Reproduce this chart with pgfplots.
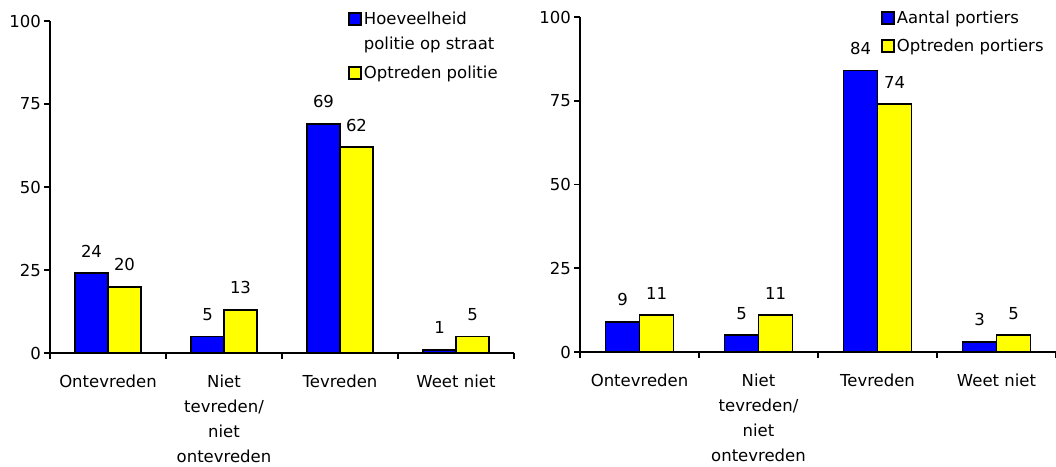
\documentclass[border=0pt]{standalone}
\usepackage{fontspec}
\setmainfont{DejaVu Sans}
\usepackage{pgfplots}
\pgfplotsset{compat=1.18}
\newcommand\lbl{\fontsize{16.5}{25}\selectfont}
\definecolor{cblue}{RGB}{0,0,255}
\definecolor{cyellow}{RGB}{255,255,0}
\pgfplotsset{mychart/.style={
  scale only axis, anchor=south west,
  /pgf/number format/assume math mode=true,
  ymin=0, ymax=100, xmin=-0.5, xmax=3.5,
  axis x line=bottom, axis y line=left,
  axis line style={line width=1.8pt, -},
  every tick/.style={line width=1.8pt, black},
  tick align=outside,
  ytick={0,25,50,75,100},
  major tick length=6pt, minor tick length=6pt,
  xtick={0,1,2,3},
  major x tick style={draw=none},
  minor xtick={-0.5,0.5,1.5,2.5,3.5},
  xticklabels={Ontevreden,{Niet\\tevreden/\\niet\\ontevreden},Tevreden,Weet niet},
  xticklabel style={font=\lbl, align=center, yshift=-12pt},
  yticklabel style={font=\lbl, inner sep=0pt, xshift=-3pt},
  ybar=0pt,
  nodes near coords,
  every node near coord/.append style={font=\lbl, inner sep=0pt, anchor=south, yshift=15pt, black},
  legend style={draw=none, fill=none, font=\lbl, anchor=north west,
    cells={anchor=west, align=left}, inner sep=0pt},
  legend image code/.code={\draw[#1, line width=1.8pt, draw=black] (0pt,-6pt) rectangle (12pt,6pt);},
  clip=false,
}}
\begin{document}
\begin{tikzpicture}
\useasboundingbox (0,0) rectangle (1056pt,466pt);
\begin{axis}[mychart, at={(50pt,113pt)}, width=464pt, height=332pt, bar width=33pt,
  legend style={at={(0.642,1.033)}, row sep=11pt}]
\addplot[fill=cblue, draw=black, line width=1.8pt,
  legend image code/.code={\path[draw=none, fill=none] (0pt,-6pt) rectangle (12pt,6pt);
    \draw[overlay, fill=cblue, line width=1.8pt, draw=black] (0pt,6.5pt) rectangle (12pt,18.5pt);}]
  coordinates {(0,24) (1,5) (2,69) (3,1)};
\addplot[fill=cyellow, draw=black, line width=1.8pt] coordinates {(0,20) (1,13) (2,62) (3,5)};
\legend{{Hoeveelheid\\politie op straat},Optreden politie}
\end{axis}
\begin{axis}[mychart, at={(580pt,114pt)}, width=476pt, height=335pt, bar width=34pt,
  legend style={at={(0.632,1.024)}, row sep=10pt}]
\addplot[fill=cblue, draw=black, line width=1.8pt] coordinates {(0,9) (1,5) (2,84) (3,3)};
\addplot[fill=cyellow, draw=black, line width=1.8pt] coordinates {(0,11) (1,11) (2,74) (3,5)};
\legend{Aantal portiers,Optreden portiers}
\end{axis}
\end{tikzpicture}
\end{document}
